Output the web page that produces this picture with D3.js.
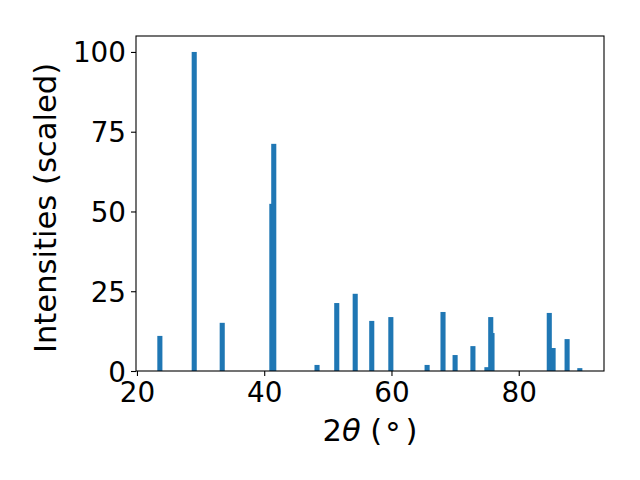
<!DOCTYPE html>
<html>
<head>
<meta charset="utf-8">
<script src="https://cdn.jsdelivr.net/npm/d3@7"></script>
<style>
  body { margin: 0; background: #fff; }
  text { font-family: "DejaVu Sans", sans-serif; }
</style>
</head>
<body>
<div id="chart"></div>
<script>
// peak positions (2theta, degrees) and scaled intensities
const angles = [23.6, 29.0, 33.4, 41.2, 41.5, 48.3, 51.4, 54.3, 56.9, 59.9, 65.6,
  68.1, 70.0, 72.8, 75.0, 75.6, 75.8, 84.8, 85.4, 87.6, 89.6];
const intensities = [11.0, 100, 15.1, 52.4, 71.2, 1.9, 21.3, 24.2, 15.7, 16.9, 1.9,
  18.5, 5.0, 7.8, 1.2, 16.9, 11.9, 18.2, 7.2, 10.0, 0.9];
const xTicks = [20, 40, 60, 80];
const yTicks = [0, 25, 50, 75, 100];
const barWidth = 0.8;

const width = 640, height = 480;
const margin = { top: 36, right: 36, bottom: 109, left: 136 };

const svg = d3.select("#chart")
  .append("svg")
  .attr("width", width)
  .attr("height", height);

const x = d3.scaleLinear()
  .domain([19.85, 93.4])
  .range([margin.left, width - margin.right]);

const y = d3.scaleLinear()
  .domain([0, 105])
  .range([height - margin.bottom, margin.top]);

const data = angles.map((a, i) => ({ angle: a, value: intensities[i] }));

svg.append("g")
  .selectAll("rect")
  .data(data)
  .join("rect")
  .attr("x", (d) => x(d.angle - barWidth / 2))
  .attr("width", (d) => x(d.angle + barWidth / 2) - x(d.angle - barWidth / 2))
  .attr("y", (d) => y(d.value))
  .attr("height", (d) => y(0) - y(d.value))
  .attr("fill", "#1f77b4");

// axes
const xAxis = svg.append("g")
  .attr("transform", `translate(0,${height - margin.bottom})`)
  .call(d3.axisBottom(x).tickValues(xTicks).tickSize(5).tickPadding(6).tickSizeOuter(0));

const yAxis = svg.append("g")
  .attr("transform", `translate(${margin.left},0)`)
  .call(d3.axisLeft(y).tickValues(yTicks).tickSize(5).tickPadding(5).tickSizeOuter(0));

[xAxis, yAxis].forEach((g) => {
  g.select(".domain").remove();
  g.selectAll(".tick line").attr("stroke", "#000").attr("stroke-width", 1.1);
  g.selectAll(".tick text")
    .attr("fill", "#000")
    .style("font-size", "27.8px")
    .style("font-family", "'DejaVu Sans', sans-serif");
});
yAxis.selectAll(".tick text").attr("dy", "0.36em");

// frame
svg.append("rect")
  .attr("x", margin.left)
  .attr("y", margin.top)
  .attr("width", width - margin.left - margin.right)
  .attr("height", height - margin.top - margin.bottom)
  .attr("fill", "none")
  .attr("stroke", "#000")
  .attr("stroke-width", 1.1);

// labels
const xLabel = svg.append("text")
  .attr("x", 370)
  .attr("y", 441)
  .attr("text-anchor", "middle")
  .style("font-size", "30.6px");
xLabel.append("tspan").text("2");
xLabel.append("tspan").style("font-style", "italic").text("θ");
xLabel.append("tspan").text(" (");
xLabel.append("tspan").attr("dx", 3).attr("dy", 3).text("°");
xLabel.append("tspan").attr("dx", 5).attr("dy", -3).text(")");

svg.append("text")
  .attr("transform", `translate(56,208) rotate(-90)`)
  .attr("text-anchor", "middle")
  .style("font-size", "30.6px")
  .text("Intensities (scaled)");
</script>
</body>
</html>
